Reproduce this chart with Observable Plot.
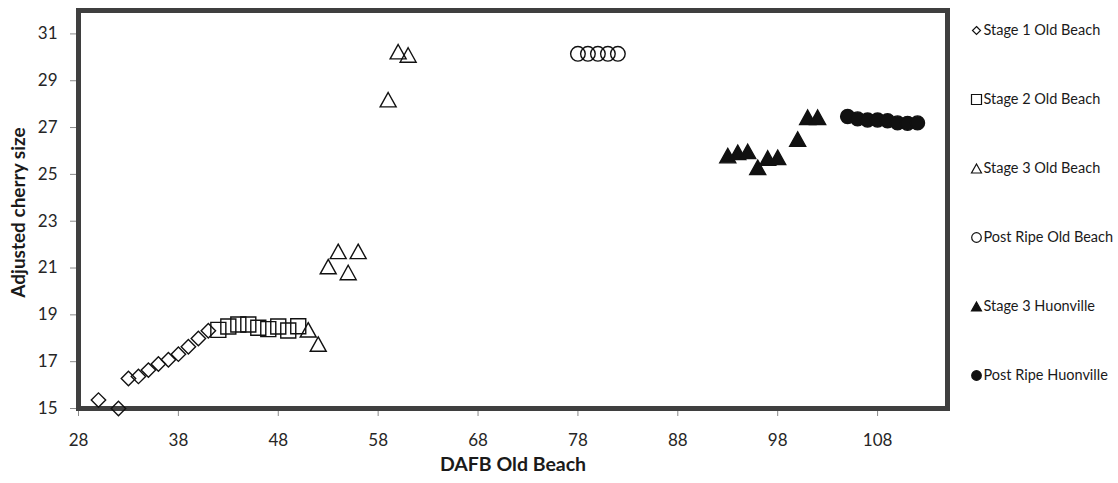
<!DOCTYPE html>
<html>
<head>
<meta charset="utf-8">
<script src="https://cdn.jsdelivr.net/npm/d3@7"></script>
<script src="https://cdn.jsdelivr.net/npm/@observablehq/plot@0.6"></script>
<style>
  html, body { margin: 0; padding: 0; background: #fff; }
  #wrap { display: flex; width: 1118px; height: 483px; font-family: Lato, "Open Sans", sans-serif; }
</style>
</head>
<body>
<div id="wrap"></div>
<script>
// ---- data ----
const stage1X = [30, 32, 33, 34, 35, 36, 37, 38, 39, 40, 41];
const stage1Y = [15.36, 15.0, 16.28, 16.37, 16.64, 16.90, 17.08, 17.32, 17.64, 17.99, 18.32];

const stage2X = [42, 43, 44, 45, 46, 47, 48, 49, 50];
const stage2Y = [18.36, 18.50, 18.59, 18.59, 18.45, 18.39, 18.50, 18.33, 18.51];

const stage3X = [51, 52, 53, 54, 55, 56, 59, 60, 61];
const stage3Y = [18.36, 17.75, 21.06, 21.71, 20.81, 21.71, 28.19, 30.24, 30.10];

const postRipeX = [78, 79, 80, 81, 82];
const postRipeY = [30.15, 30.15, 30.15, 30.15, 30.15];

const stage3HX = [93, 94, 95, 96, 97, 98, 100, 101, 102];
const stage3HY = [25.80, 25.94, 25.98, 25.30, 25.70, 25.73, 26.51, 27.44, 27.44];

const postRipeHX = [105, 106, 107, 108, 109, 110, 111, 112];
const postRipeHY = [27.47, 27.37, 27.32, 27.32, 27.29, 27.20, 27.18, 27.20];

const seriesNames = ["Stage 1 Old Beach", "Stage 2 Old Beach", "Stage 3 Old Beach",
                     "Post Ripe Old Beach", "Stage 3 Huonville", "Post Ripe Huonville"];
const xTicks = [28, 38, 48, 58, 68, 78, 88, 98, 108];
const yTicks = [15, 17, 19, 21, 23, 25, 27, 29, 31];
const xTitle = "DAFB Old Beach";
const yTitle = "Adjusted cherry size";

// ---- custom Excel-like marker shapes (half-width = r) ----
const rad = size => Math.sqrt(size / Math.PI);
const diamondSym = { draw(c, s) { const r = rad(s); c.moveTo(0, -r); c.lineTo(r, 0); c.lineTo(0, r); c.lineTo(-r, 0); c.closePath(); } };
const squareSym = { draw(c, s) { const r = rad(s); c.moveTo(-r, -r); c.lineTo(r, -r); c.lineTo(r, r); c.lineTo(-r, r); c.closePath(); } };
const triangleSym = { draw(c, s) { const r = rad(s); const h = r * 0.9; c.moveTo(0, -h); c.lineTo(r, h); c.lineTo(-r, h); c.closePath(); } };
const circleSym = { draw(c, s) { const r = rad(s); c.moveTo(r, 0); c.arc(0, 0, r, 0, 2 * Math.PI); c.closePath(); } };

const ink = "#111";
const series = [
  { name: seriesNames[0], xs: stage1X, ys: stage1Y, symbol: diamondSym, r: 7.2, fill: "none", lr: 4 },
  { name: seriesNames[1], xs: stage2X, ys: stage2Y, symbol: squareSym, r: 7.5, fill: "none", lr: 5 },
  { name: seriesNames[2], xs: stage3X, ys: stage3Y, symbol: triangleSym, r: 8, fill: "none", lr: 5 },
  { name: seriesNames[3], xs: postRipeX, ys: postRipeY, symbol: circleSym, r: 7.3, fill: "none", lr: 4.8 },
  { name: seriesNames[4], xs: stage3HX, ys: stage3HY, symbol: triangleSym, r: 8, fill: ink, lr: 5 },
  { name: seriesNames[5], xs: postRipeHX, ys: postRipeHY, symbol: circleSym, r: 7, fill: ink, lr: 4.8 }
];

const dotMarks = series.map(s =>
  Plot.dot(s.xs.map((x, i) => ({ x, y: s.ys[i] })), {
    x: "x", y: "y", symbol: s.symbol, r: s.r,
    fill: s.fill, stroke: ink, strokeWidth: 1.4
  })
);

const main = Plot.plot({
  width: 955,
  height: 483,
  marginLeft: 78,
  marginRight: 8,
  marginTop: 10,
  marginBottom: 75,
  style: { fontFamily: "Lato, 'Open Sans', sans-serif", fontSize: "17px", color: "#262626", background: "#fff", overflow: "visible" },
  x: { domain: [28, 115] },
  y: { domain: [15, 32] },
  marks: [
    Plot.axisY({ ticks: yTicks, tickSize: 8, tickPadding: 13, label: null, stroke: "#8a8a8a", fill: "#262626" }),
    Plot.axisX({ ticks: xTicks, tickSize: 8, tickPadding: 17, label: null, stroke: "#8a8a8a", fill: "#262626" }),
    Plot.frame({ stroke: "#3f3f3f", strokeWidth: 5 }),
    ...dotMarks,
    Plot.text([yTitle], { frameAnchor: "left", dx: -60, dy: 3, rotate: -90, textAnchor: "middle", fontWeight: "bold", fontSize: 19, fill: "#1a1a1a" }),
    Plot.text([xTitle], { frameAnchor: "bottom", dy: 62, textAnchor: "middle", fontWeight: "bold", fontSize: 19.5, fill: "#1a1a1a" })
  ]
});

const legend = Plot.plot({
  width: 163,
  height: 483,
  marginLeft: 0,
  marginRight: 0,
  marginTop: 29,
  marginBottom: 107,
  style: { fontFamily: "Lato, 'Open Sans', sans-serif", fontSize: "14.5px", color: "#1a1a1a", background: "#fff" },
  y: { type: "point", domain: seriesNames, padding: 0, axis: null },
  marks: [
    ...series.map(s => Plot.dot([s.name], {
      y: d => d, frameAnchor: "left", dx: 21, symbol: s.symbol, r: s.lr,
      fill: s.fill, stroke: ink, strokeWidth: 1.2
    })),
    Plot.text(seriesNames, { y: d => d, text: d => d, frameAnchor: "left", dx: 28, textAnchor: "start", fontSize: 14.5, fill: "#1a1a1a" })
  ]
});

const wrap = document.getElementById("wrap");
wrap.appendChild(main);
wrap.appendChild(legend);
</script>
</body>
</html>
